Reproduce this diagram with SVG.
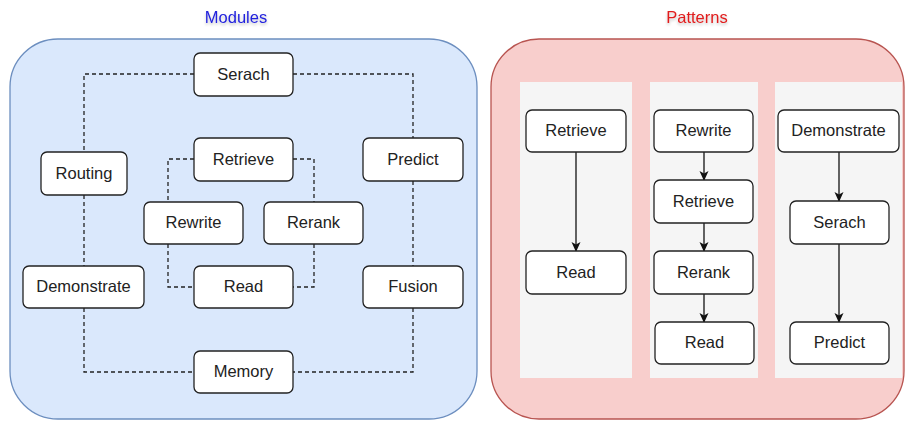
<svg xmlns="http://www.w3.org/2000/svg" width="906" height="421" viewBox="0 0 906 421">
  <defs>
    <style>
      .panel-blue { fill: #dae8fc; stroke: #6c8ebf; stroke-width: 1.3; }
      .panel-red { fill: #f8cecc; stroke: #b85450; stroke-width: 1.3; }
      .lane { fill: #f5f5f5; stroke: none; }
      .node rect { fill: #ffffff; stroke: #222222; stroke-width: 1.3; }
      .node text { font-family: "Liberation Sans", Arial, sans-serif; font-size: 16.5px; fill: #222222; text-anchor: middle; dominant-baseline: central; }
      .title { font-family: "Liberation Sans", Arial, sans-serif; font-size: 16.5px; text-anchor: middle; dominant-baseline: central; filter: url(#glow); }
      .dash { fill: none; stroke: #222222; stroke-width: 1.3; stroke-dasharray: 4 3; }
      .flow { fill: none; stroke: #111111; stroke-width: 1.3; marker-end: url(#arrow); }
    </style>
    <marker id="arrow" viewBox="0 0 10 10" refX="9" refY="5" markerWidth="10" markerHeight="10" markerUnits="userSpaceOnUse" orient="auto">
      <path d="M0,0.5 L10,5 L0,9.5 L2.5,5 Z" fill="#111111"/>
    </marker>
    <filter id="glow" x="-20%" y="-50%" width="140%" height="200%">
      <feGaussianBlur in="SourceAlpha" stdDeviation="1.5" result="b"/>
      <feOffset dy="2" in="b" result="o"/>
      <feComponentTransfer in="o" result="s"><feFuncA type="linear" slope="0.25"/></feComponentTransfer>
      <feMerge><feMergeNode in="s"/><feMergeNode in="SourceGraphic"/></feMerge>
    </filter>
  </defs>

  <!-- section titles -->
  <text class="title" x="236" y="17" fill="#2222dd">Modules</text>
  <text class="title" x="697" y="17" fill="#e01b1b">Patterns</text>

  <!-- containers -->
  <rect class="panel-blue" x="10" y="39" width="467" height="380" rx="48" ry="48"/>
  <rect class="panel-red" x="491" y="39" width="413" height="380" rx="48" ry="48"/>
  <rect class="lane" x="520" y="82" width="112" height="296"/>
  <rect class="lane" x="650" y="82" width="108" height="296"/>
  <rect class="lane" x="775" y="82" width="127" height="296"/>

  <!-- connectors -->
  <g id="connectors">
    <!-- module ring -->
    <path class="dash" d="M194,74 H84 V152"/>
    <path class="dash" d="M293,74 H413 V138"/>
    <path class="dash" d="M84,195 V266"/>
    <path class="dash" d="M413,181 V266"/>
    <path class="dash" d="M84,308 V372 H194"/>
    <path class="dash" d="M413,308 V372 H293"/>
    <!-- inner loop -->
    <path class="dash" d="M194,159 H168 V202"/>
    <path class="dash" d="M293,159 H314 V202"/>
    <path class="dash" d="M168,244 V287 H194"/>
    <path class="dash" d="M314,244 V287 H293"/>
    <!-- pattern flows -->
    <path class="flow" d="M576,152 V251"/>
    <path class="flow" d="M704,152 V180"/>
    <path class="flow" d="M704,223 V251"/>
    <path class="flow" d="M704,294 V322"/>
    <path class="flow" d="M839,152 V201"/>
    <path class="flow" d="M839,244 V322"/>
  </g>

  <!-- module nodes -->
  <g id="m-search" class="node"><rect x="194" y="53" width="99" height="43" rx="6"/><text x="243.5" y="73.5">Serach</text></g>
  <g id="m-retrieve" class="node"><rect x="194" y="138" width="99" height="43" rx="6"/><text x="243.5" y="158.5">Retrieve</text></g>
  <g id="m-routing" class="node"><rect x="41" y="152" width="86" height="43" rx="6"/><text x="84" y="172.5">Routing</text></g>
  <g id="m-predict" class="node"><rect x="363" y="138" width="100" height="43" rx="6"/><text x="413" y="158.5">Predict</text></g>
  <g id="m-rewrite" class="node"><rect x="144" y="202" width="99" height="42" rx="6"/><text x="193.5" y="222">Rewrite</text></g>
  <g id="m-rerank" class="node"><rect x="264" y="202" width="99" height="42" rx="6"/><text x="313.5" y="222">Rerank</text></g>
  <g id="m-demonstrate" class="node"><rect x="23" y="266" width="121" height="42" rx="6"/><text x="83.5" y="286">Demonstrate</text></g>
  <g id="m-read" class="node"><rect x="194" y="266" width="99" height="42" rx="6"/><text x="243.5" y="286">Read</text></g>
  <g id="m-fusion" class="node"><rect x="363" y="266" width="100" height="42" rx="6"/><text x="413" y="286">Fusion</text></g>
  <g id="m-memory" class="node"><rect x="194" y="351" width="99" height="42" rx="6"/><text x="243.5" y="371">Memory</text></g>

  <!-- pattern nodes -->
  <g id="p1-retrieve" class="node"><rect x="526" y="110" width="100" height="42" rx="6"/><text x="576" y="130">Retrieve</text></g>
  <g id="p1-read" class="node"><rect x="526" y="251" width="100" height="43" rx="6"/><text x="576" y="271.5">Read</text></g>
  <g id="p2-rewrite" class="node"><rect x="654" y="110" width="99" height="42" rx="6"/><text x="703.5" y="130">Rewrite</text></g>
  <g id="p2-retrieve" class="node"><rect x="654" y="180" width="99" height="43" rx="6"/><text x="703.5" y="200.5">Retrieve</text></g>
  <g id="p2-rerank" class="node"><rect x="654" y="251" width="99" height="43" rx="6"/><text x="703.5" y="271.5">Rerank</text></g>
  <g id="p2-read" class="node"><rect x="655" y="322" width="99" height="42" rx="6"/><text x="704.5" y="342">Read</text></g>
  <g id="p3-demonstrate" class="node"><rect x="778" y="110" width="121" height="42" rx="6"/><text x="838.5" y="130">Demonstrate</text></g>
  <g id="p3-search" class="node"><rect x="790" y="201" width="99" height="43" rx="6"/><text x="839.5" y="221.5">Serach</text></g>
  <g id="p3-predict" class="node"><rect x="790" y="322" width="99" height="42" rx="6"/><text x="839.5" y="342">Predict</text></g>
</svg>
